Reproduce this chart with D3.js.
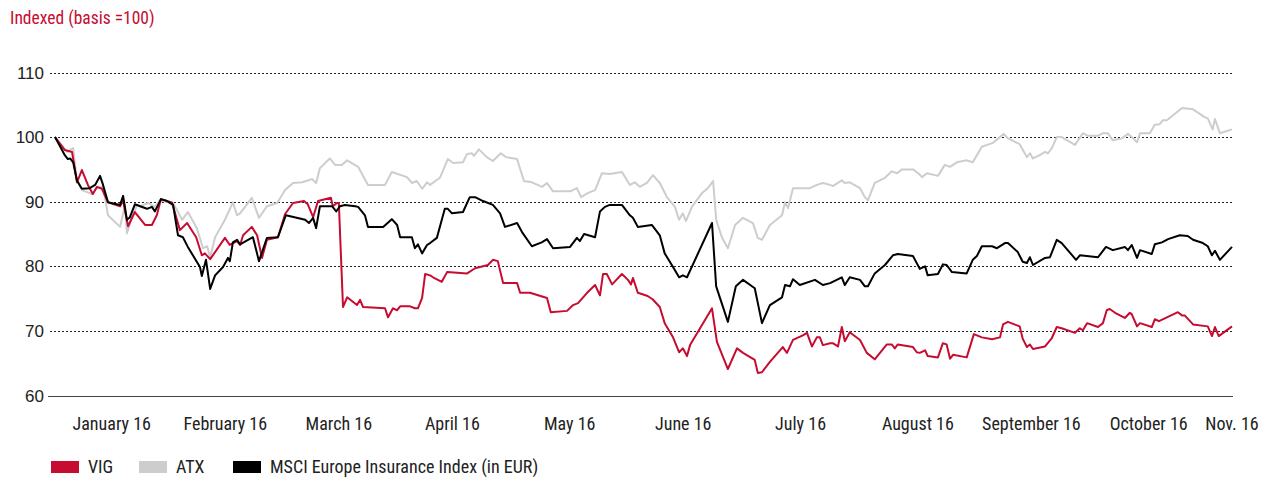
<!DOCTYPE html>
<html>
<head>
<meta charset="utf-8">
<script src="https://cdn.jsdelivr.net/npm/d3@7"></script>
<style>
body { margin: 0; background: #fff; }
text { font-family: "Liberation Sans Narrow", "Arial Narrow", "Roboto Condensed", sans-serif; }
text.ylab { font-family: "Liberation Sans", Arial, sans-serif; }
</style>
</head>
<body>
<script>
// x = day of 2016 (0 = 1 January), y = index (basis = 100)
var vig = [[0,100],[2.6,98.0],[4.5,97.7],[5.8,93.0],[7.1,94.9],[8.7,92.6],[10.0,91.2],[11.1,92.3],[12.4,92.0],[14.0,89.9],
  [17.2,89.3],[18.0,90.2],[19.3,86.2],[21.1,88.4],[23.8,86.4],[25.6,86.4],[26.9,87.9],[28.0,90.4],[30.9,89.9],[33.0,85.6],
  [34.9,86.7],[37.3,84.5],[38.8,81.7],[39.6,82.0],[41.0,81.1],[44.9,84.4],[46.2,83.3],[48.1,83.9],[48.9,83.3],[49.7,84.8],
  [52.0,86.1],[53.4,84.8],[54.7,81.3],[56.0,84.1],[58.9,84.5],[60.8,88.1],[62.9,89.8],[65.8,90.1],[66.8,89.6],[68.2,87.6],
  [69.5,90.1],[72.9,90.6],[73.4,89.3],[74.5,89.8],[75.0,89.8],[76.1,73.7],[77.2,75.2],[79.8,74.0],[80.6,74.8],[81.4,73.7],
  [87.2,73.5],[88.0,72.1],[89.3,73.5],[90.4,73.2],[91.2,73.8],[93.8,73.8],[95.1,73.5],[95.9,73.5],[97.0,75.1],[97.8,78.8],
  [99.1,78.6],[99.9,78.3],[102.2,77.6],[103.6,79.1],[108.9,78.9],[111.0,79.7],[114.4,80.2],[115.7,81.0],[117.0,80.8],[118.4,77.4],
  [122.1,77.4],[122.9,75.9],[125.5,75.9],[130.0,75.1],[131.0,72.9],[135.3,73.1],[136.9,74.0],[138.2,74.3],[140.6,75.9],[142.7,77.1],
  [144.0,75.5],[144.8,78.8],[145.8,78.8],[147.2,77.2],[149.8,78.8],[151.4,77.9],[152.2,77.2],[152.7,78.2],[154.0,75.9],[156.6,75.4],
  [157.9,74.9],[159.8,73.7],[161.1,71.2],[163.3,69.0],[164.9,66.7],[165.9,67.3],[167.0,66.1],[167.8,67.8],[173.6,73.5],[174.9,68.3],
  [177.8,64.1],[180.2,67.3],[181.8,66.6],[184.9,65.5],[185.7,63.5],[186.8,63.6],[188.9,65.2],[192.3,67.5],[193.4,66.6],[195.0,68.6],
  [197.6,69.3],[198.7,69.7],[200.0,67.6],[201.3,69.0],[202.1,69.0],[202.9,67.8],[204.8,68.1],[205.5,68.1],[206.9,67.6],[207.9,70.6],
  [208.7,68.4],[210.0,69.8],[212.7,68.6],[214.5,66.6],[216.6,65.6],[219.8,67.9],[221.1,67.9],[221.9,67.3],[222.7,67.9],[226.7,67.5],
  [227.7,66.7],[228.5,66.6],[229.9,67.0],[230.6,66.1],[233.3,65.9],[234.6,68.1],[235.6,67.9],[236.5,65.7],[237.3,66.3],[240.9,65.9],
  [242.8,69.5],[244.9,69.0],[247.6,68.7],[249.7,69.0],[250.5,71.0],[251.8,71.4],[254.9,70.7],[255.7,68.8],[256.8,67.5],[257.6,67.9],
  [258.4,67.2],[261.6,67.6],[263.4,68.9],[264.7,70.6],[266.0,70.4],[269.5,69.7],[270.8,70.4],[271.6,70.1],[272.7,71.2],[275.6,70.6],
  [276.9,71.2],[277.9,73.2],[278.7,73.4],[280.1,72.8],[282.7,72.0],[284.0,72.8],[284.5,72.6],[285.9,70.7],[286.7,71.2],[289.8,70.6],
  [290.6,71.8],[291.7,71.5],[293.8,72.1],[296.7,72.9],[297.8,72.4],[298.5,72.4],[300.7,71.0],[304.6,70.7],[305.7,69.2],[306.5,70.6],
  [307.5,69.2],[311.0,70.7]];

var atx = [[0,100],[3.2,97.7],[4.8,98.3],[5.8,93.3],[7.1,91.8],[9.8,91.2],[11.1,92.1],[12.7,92.3],[14.0,87.9],[17.2,86.1],
  [18.5,89.5],[19.0,85.1],[20.3,87.5],[21.7,89.5],[22.5,89.3],[24.6,89.8],[26.4,89.2],[27.7,90.2],[31.2,89.8],[33.6,87.2],
  [35.1,88.4],[37.5,85.9],[39.1,82.8],[40.2,83.1],[41.0,81.4],[42.3,84.5],[44.9,87.2],[47.0,89.9],[48.1,87.9],[48.9,88.2],
  [52.0,90.6],[53.9,87.5],[56.0,89.3],[58.7,89.8],[60.8,91.8],[62.9,92.9],[65.3,93.0],[67.9,93.5],[69.0,92.9],[70.0,95.2],
  [72.6,96.7],[74.0,95.7],[75.8,95.7],[77.2,96.4],[80.1,95.4],[82.7,92.6],[87.2,92.6],[89.0,94.6],[93.0,93.8],[94.3,92.9],
  [95.6,93.2],[97.0,92.0],[98.3,93.0],[99.1,92.6],[101.7,93.7],[103.8,96.6],[105.2,96.0],[107.8,96.1],[108.9,97.4],[110.2,97.5],
  [110.7,97.1],[112.0,98.1],[114.1,96.9],[115.7,96.3],[117.8,97.5],[119.2,96.9],[122.1,96.6],[123.9,93.2],[126.0,93.0],[128.7,92.3],
  [130.0,92.9],[131.6,91.6],[136.1,91.6],[137.9,92.1],[139.0,90.7],[140.6,91.3],[142.7,91.8],[144.5,94.4],[146.6,94.3],[149.8,94.6],
  [151.9,92.6],[153.2,93.0],[154.5,92.3],[156.4,92.9],[158.0,94.1],[159.8,92.9],[161.7,90.7],[163.8,89.2],[164.9,87.2],[165.9,88.2],
  [166.7,87.0],[168.3,89.2],[170.9,91.3],[172.5,92.1],[173.9,93.2],[174.7,87.2],[176.2,84.5],[177.8,82.8],[179.7,86.4],[181.8,87.5],
  [184.4,86.7],[185.7,84.4],[186.8,84.1],[188.9,86.4],[192.1,87.9],[192.9,89.9],[193.7,89.0],[195.0,92.1],[199.5,92.1],[201.3,92.6],
  [202.9,92.9],[204.8,92.6],[205.5,92.4],[207.9,93.3],[208.7,92.9],[210.0,93.0],[212.7,92.1],[214.0,90.7],[214.8,90.2],[216.6,92.9],
  [219.3,93.7],[221.1,94.7],[222.5,94.4],[223.8,95.0],[226.7,95.0],[228.1,94.4],[229.1,93.8],[230.4,94.4],[233.3,94.0],[235.1,95.7],
  [236.5,95.4],[238.3,96.1],[240.9,96.4],[242.5,96.1],[244.9,98.5],[247.8,99.1],[250.7,100.5],[251.8,99.8],[254.9,98.9],[256.8,96.9],
  [257.6,97.5],[258.4,96.7],[260.2,97.2],[261.6,97.7],[262.4,97.5],[263.4,98.3],[264.7,100.0],[266.0,100.0],[269.5,98.8],[271.6,100.6],
  [272.9,100.2],[275.6,100.2],[276.9,100.6],[278.2,100.6],[279.5,99.5],[281.9,99.8],[283.5,100.5],[284.5,100.0],[285.9,99.2],[286.7,100.6],
  [289.3,100.6],[290.6,101.9],[291.9,102.0],[292.7,102.6],[293.8,102.6],[297.8,104.5],[300.7,104.3],[303.8,103.1],[304.6,102.9],[305.9,101.2],
  [306.5,102.8],[307.8,100.6],[311.0,101.2]];

var msci = [[0,100],[2.6,97.2],[3.4,96.6],[4.0,96.7],[4.8,96.1],[5.8,93.3],[7.1,92.0],[9.2,92.1],[10.6,92.6],[11.9,94.0],
  [12.7,92.6],[14.0,89.9],[17.2,89.5],[18.0,90.9],[19.0,87.2],[19.8,87.6],[21.1,89.6],[22.5,89.3],[24.3,88.9],[25.6,89.2],
  [26.4,88.5],[28.0,90.4],[29.6,90.1],[31.2,89.5],[32.5,84.8],[33.8,84.5],[35.1,83.0],[38.3,79.9],[38.8,78.5],[39.9,81.0],
  [41.0,76.5],[42.3,78.6],[44.4,79.9],[45.7,81.3],[46.2,80.8],[47.0,83.7],[48.1,84.1],[48.9,83.4],[52.3,84.5],[53.9,80.8],
  [56.0,84.4],[58.9,84.5],[61.0,87.9],[66.1,87.2],[67.1,86.7],[68.2,87.5],[69.0,85.9],[70.0,89.3],[73.2,89.3],[74.3,88.5],
  [75.3,89.3],[76.6,89.5],[79.3,89.3],[80.1,89.2],[81.9,87.9],[82.7,86.1],[86.7,86.1],[89.0,87.3],[90.4,86.4],[91.2,84.5],
  [94.3,84.5],[95.1,82.8],[95.9,83.4],[97.0,82.0],[98.3,83.3],[99.1,83.6],[100.9,84.4],[103.0,88.9],[103.8,88.9],[104.9,88.2],
  [107.8,88.4],[109.6,90.7],[111.0,90.7],[113.1,90.1],[115.7,89.5],[117.6,88.2],[118.9,86.1],[122.1,86.7],[123.4,85.3],[126.0,83.1],
  [128.6,83.7],[130.0,84.2],[131.6,82.8],[136.1,83.0],[137.9,84.4],[138.7,83.9],[139.8,85.0],[142.7,84.5],[144.0,88.5],[145.3,89.2],
  [146.6,89.5],[149.8,89.5],[151.9,87.9],[152.7,87.5],[154.0,86.1],[157.7,86.4],[159.8,84.8],[161.1,82.0],[163.3,79.9],[164.9,78.3],
  [165.9,78.6],[167.0,78.3],[173.6,86.7],[174.7,76.9],[177.8,71.4],[179.9,76.9],[181.8,77.9],[184.9,76.6],[186.8,71.2],[188.9,74.0],
  [192.1,75.2],[192.9,77.1],[194.2,76.9],[195.0,78.0],[196.8,77.1],[200.8,77.9],[202.9,77.1],[204.8,77.4],[207.9,78.3],[208.7,77.1],
  [210.0,78.3],[212.7,77.9],[214.0,76.9],[214.8,76.9],[216.6,78.9],[219.3,80.2],[221.4,81.7],[222.7,81.9],[226.7,81.6],[228.5,79.6],
  [229.9,80.0],[230.6,78.6],[233.3,78.8],[234.6,80.3],[235.6,80.2],[237.0,79.1],[240.9,78.9],[242.5,81.0],[243.6,81.6],[244.9,83.1],
  [247.6,83.1],[248.9,82.8],[251.0,83.6],[251.8,83.6],[254.4,82.2],[255.7,80.7],[256.8,80.5],[257.6,81.4],[258.4,80.2],[261.6,81.3],
  [262.9,81.4],[264.7,84.1],[266.0,83.6],[269.8,81.0],[270.8,81.7],[275.6,81.4],[277.7,83.0],[279.5,82.5],[282.7,83.0],[283.5,82.5],
  [284.5,83.3],[285.9,81.3],[286.7,82.5],[289.8,81.9],[290.6,83.4],[292.5,83.7],[294.1,84.2],[297.2,84.8],[299.3,84.7],[300.7,84.1],
  [303.3,83.6],[304.6,83.1],[305.7,81.7],[306.5,82.4],[307.8,81.0],[311.0,83.0]];

var yTicks = [60, 70, 80, 90, 100, 110];
var monthLabels = ["January 16", "February 16", "March 16", "April 16", "May 16", "June 16",
  "July 16", "August 16", "September 16", "October 16", "Nov. 16"];
var monthDays = [15, 45, 75, 105, 136, 166, 197, 228, 258, 289, 311];

var seriesNames = ["VIG", "ATX", "MSCI Europe Insurance Index (in EUR)"];
var seriesColors = ["#c60c30", "#cdcdcd", "#000000"];

var W = 1261, H = 477;
var svg = d3.select("body").append("svg")
    .attr("width", W)
    .attr("height", H);

var x = d3.scaleLinear().domain([0, 311]).range([55, 1232]);
var y = d3.scaleLinear().domain([60, 110]).range([395.5, 72.5]);

svg.append("text")
    .attr("x", 10).attr("y", 24)
    .attr("fill", "#c60c30")
    .style("font-size", "17.5px")
    .text("Indexed (basis =100)");

// grid lines (dotted) and solid base line
svg.selectAll(".grid")
    .data(yTicks.filter(d => d > 60))
    .enter().append("line")
    .attr("x1", 50).attr("x2", 1233)
    .attr("y1", d => Math.round(y(d)) + 0.5)
    .attr("y2", d => Math.round(y(d)) + 0.5)
    .attr("stroke", "#222")
    .attr("stroke-dasharray", "2,2");

svg.append("line")
    .attr("x1", 48).attr("x2", 1233)
    .attr("y1", Math.round(y(60)) + 0.5).attr("y2", Math.round(y(60)) + 0.5)
    .attr("stroke", "#444").attr("stroke-width", 1.2);

svg.selectAll(".ylab")
    .data(yTicks)
    .enter().append("text")
    .attr("class", "ylab")
    .attr("x", 44)
    .attr("y", d => y(d) + 6)
    .attr("text-anchor", "end")
    .attr("fill", "#222")
    .style("font-size", "17px")
    .text(d => d);

svg.selectAll(".xlab")
    .data(monthLabels)
    .enter().append("text")
    .attr("x", (d, i) => x(monthDays[i]))
    .attr("y", 430)
    .attr("text-anchor", "middle")
    .attr("fill", "#222")
    .style("font-size", "18px")
    .text(d => d);

var line = d3.line()
    .x(d => x(d[0]))
    .y(d => y(d[1]));

[[atx, 1], [vig, 0], [msci, 2]].forEach(function (s) {
    svg.append("path")
        .datum(s[0])
        .attr("d", line)
        .attr("fill", "none")
        .attr("stroke", seriesColors[s[1]])
        .attr("stroke-width", 2)
        .attr("stroke-linejoin", "round");
});

// legend
var legendX = [51, 139, 233];
var lg = svg.selectAll(".legend")
    .data(seriesNames)
    .enter().append("g")
    .attr("transform", (d, i) => "translate(" + legendX[i] + ",461)");
lg.append("rect")
    .attr("width", 28).attr("height", 12)
    .attr("fill", (d, i) => seriesColors[i]);
lg.append("text")
    .attr("x", 37).attr("y", 12)
    .attr("fill", "#222")
    .style("font-size", "18px")
    .text(d => d);
</script>
</body>
</html>
